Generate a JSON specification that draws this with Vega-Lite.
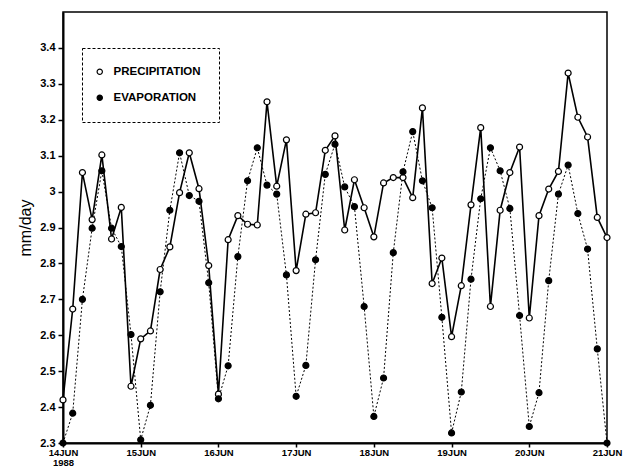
{
  "$schema": "https://vega.github.io/schema/vega-lite/v6.json",
  "width": 544,
  "height": 431,
  "autosize": {"type": "none"},
  "padding": {"left": 63, "top": 12, "right": 23, "bottom": 24},
  "background": "white",
  "config": {
    "font": "Liberation Sans",
    "view": {"stroke": "black", "strokeWidth": 1.5},
    "axis": {"domainColor": "black", "tickColor": "black", "labelColor": "black", "titleColor": "black", "grid": false, "domainWidth": 2, "tickWidth": 1.5},
    "legend": {"strokeColor": "black", "strokeDash": [3, 2], "strokeWidth": 1, "padding": 18, "symbolOffset": -6, "labelOffset": 8, "rowPadding": 13, "labelFontSize": 11.5, "labelFontWeight": "bold", "labelColor": "black", "symbolSize": 28, "symbolStrokeColor": "black", "symbolStrokeWidth": 1.2, "symbolType": "circle"}
  },
  "data": {"values": [
    {"t": "1988-06-14T00:00:00Z", "PRECIPITATION": 2.42, "EVAPORATION": 2.30},
    {"t": "1988-06-14T03:00:00Z", "PRECIPITATION": 2.673, "EVAPORATION": 2.383},
    {"t": "1988-06-14T06:00:00Z", "PRECIPITATION": 3.053, "EVAPORATION": 2.70},
    {"t": "1988-06-14T09:00:00Z", "PRECIPITATION": 2.922, "EVAPORATION": 2.898},
    {"t": "1988-06-14T12:00:00Z", "PRECIPITATION": 3.102, "EVAPORATION": 3.058},
    {"t": "1988-06-14T15:00:00Z", "PRECIPITATION": 2.868, "EVAPORATION": 2.898},
    {"t": "1988-06-14T18:00:00Z", "PRECIPITATION": 2.956, "EVAPORATION": 2.847},
    {"t": "1988-06-14T21:00:00Z", "PRECIPITATION": 2.458, "EVAPORATION": 2.602},
    {"t": "1988-06-15T00:00:00Z", "PRECIPITATION": 2.59, "EVAPORATION": 2.309},
    {"t": "1988-06-15T03:00:00Z", "PRECIPITATION": 2.612, "EVAPORATION": 2.405},
    {"t": "1988-06-15T06:00:00Z", "PRECIPITATION": 2.783, "EVAPORATION": 2.721},
    {"t": "1988-06-15T09:00:00Z", "PRECIPITATION": 2.846, "EVAPORATION": 2.948},
    {"t": "1988-06-15T12:00:00Z", "PRECIPITATION": 2.997, "EVAPORATION": 3.108},
    {"t": "1988-06-15T15:00:00Z", "PRECIPITATION": 3.108, "EVAPORATION": 2.989},
    {"t": "1988-06-15T18:00:00Z", "PRECIPITATION": 3.008, "EVAPORATION": 2.973},
    {"t": "1988-06-15T21:00:00Z", "PRECIPITATION": 2.794, "EVAPORATION": 2.746},
    {"t": "1988-06-16T00:00:00Z", "PRECIPITATION": 2.436, "EVAPORATION": 2.423},
    {"t": "1988-06-16T03:00:00Z", "PRECIPITATION": 2.866, "EVAPORATION": 2.515},
    {"t": "1988-06-16T06:00:00Z", "PRECIPITATION": 2.933, "EVAPORATION": 2.819},
    {"t": "1988-06-16T09:00:00Z", "PRECIPITATION": 2.909, "EVAPORATION": 3.030},
    {"t": "1988-06-16T12:00:00Z", "PRECIPITATION": 2.907, "EVAPORATION": 3.122},
    {"t": "1988-06-16T15:00:00Z", "PRECIPITATION": 3.25, "EVAPORATION": 3.018},
    {"t": "1988-06-16T18:00:00Z", "PRECIPITATION": 3.015, "EVAPORATION": 2.993},
    {"t": "1988-06-16T21:00:00Z", "PRECIPITATION": 3.144, "EVAPORATION": 2.768},
    {"t": "1988-06-17T00:00:00Z", "PRECIPITATION": 2.78, "EVAPORATION": 2.43},
    {"t": "1988-06-17T03:00:00Z", "PRECIPITATION": 2.937, "EVAPORATION": 2.516},
    {"t": "1988-06-17T06:00:00Z", "PRECIPITATION": 2.941, "EVAPORATION": 2.81},
    {"t": "1988-06-17T09:00:00Z", "PRECIPITATION": 3.115, "EVAPORATION": 3.048},
    {"t": "1988-06-17T12:00:00Z", "PRECIPITATION": 3.155, "EVAPORATION": 3.132},
    {"t": "1988-06-17T15:00:00Z", "PRECIPITATION": 2.893, "EVAPORATION": 3.013},
    {"t": "1988-06-17T18:00:00Z", "PRECIPITATION": 3.033, "EVAPORATION": 2.958},
    {"t": "1988-06-17T21:00:00Z", "PRECIPITATION": 2.955, "EVAPORATION": 2.68},
    {"t": "1988-06-18T00:00:00Z", "PRECIPITATION": 2.874, "EVAPORATION": 2.374},
    {"t": "1988-06-18T03:00:00Z", "PRECIPITATION": 3.024, "EVAPORATION": 2.481},
    {"t": "1988-06-18T06:00:00Z", "PRECIPITATION": 3.039, "EVAPORATION": 2.83},
    {"t": "1988-06-18T09:00:00Z", "PRECIPITATION": 3.039, "EVAPORATION": 3.055},
    {"t": "1988-06-18T12:00:00Z", "PRECIPITATION": 2.983, "EVAPORATION": 3.167},
    {"t": "1988-06-18T15:00:00Z", "PRECIPITATION": 3.233, "EVAPORATION": 3.03},
    {"t": "1988-06-18T18:00:00Z", "PRECIPITATION": 2.744, "EVAPORATION": 2.955},
    {"t": "1988-06-18T21:00:00Z", "PRECIPITATION": 2.815, "EVAPORATION": 2.65},
    {"t": "1988-06-19T00:00:00Z", "PRECIPITATION": 2.596, "EVAPORATION": 2.328},
    {"t": "1988-06-19T03:00:00Z", "PRECIPITATION": 2.738, "EVAPORATION": 2.442},
    {"t": "1988-06-19T06:00:00Z", "PRECIPITATION": 2.963, "EVAPORATION": 2.756},
    {"t": "1988-06-19T09:00:00Z", "PRECIPITATION": 3.178, "EVAPORATION": 2.98},
    {"t": "1988-06-19T12:00:00Z", "PRECIPITATION": 2.68, "EVAPORATION": 3.122},
    {"t": "1988-06-19T15:00:00Z", "PRECIPITATION": 2.948, "EVAPORATION": 3.058},
    {"t": "1988-06-19T18:00:00Z", "PRECIPITATION": 3.053, "EVAPORATION": 2.953},
    {"t": "1988-06-19T21:00:00Z", "PRECIPITATION": 3.124, "EVAPORATION": 2.655},
    {"t": "1988-06-20T00:00:00Z", "PRECIPITATION": 2.648, "EVAPORATION": 2.346},
    {"t": "1988-06-20T03:00:00Z", "PRECIPITATION": 2.933, "EVAPORATION": 2.44},
    {"t": "1988-06-20T06:00:00Z", "PRECIPITATION": 3.007, "EVAPORATION": 2.752},
    {"t": "1988-06-20T09:00:00Z", "PRECIPITATION": 3.056, "EVAPORATION": 2.993},
    {"t": "1988-06-20T12:00:00Z", "PRECIPITATION": 3.33, "EVAPORATION": 3.074},
    {"t": "1988-06-20T15:00:00Z", "PRECIPITATION": 3.207, "EVAPORATION": 2.939},
    {"t": "1988-06-20T18:00:00Z", "PRECIPITATION": 3.152, "EVAPORATION": 2.84},
    {"t": "1988-06-20T21:00:00Z", "PRECIPITATION": 2.928, "EVAPORATION": 2.562},
    {"t": "1988-06-21T00:00:00Z", "PRECIPITATION": 2.872, "EVAPORATION": 2.30}
  ]},
  "transform": [{"fold": ["PRECIPITATION", "EVAPORATION"], "as": ["series", "value"]}],
  "encoding": {
    "x": {
      "field": "t", "type": "temporal",
      "scale": {"type": "utc", "domain": [{"year": 1988, "month": 6, "date": 14, "utc": true}, {"year": 1988, "month": 6, "date": 21, "utc": true}], "nice": false},
      "axis": {
        "title": null,
        "tickCount": {"interval": "day", "step": 1},
        "labelExpr": "utcdate(datum.value) == 14 ? ['14JUN', '1988'] : upper(utcFormat(datum.value, '%d%b'))",
        "labelFontSize": 9.5, "labelFontWeight": "bold", "labelPadding": 0, "labelLineHeight": 10.5,
        "labelFlush": false, "labelOverlap": false, "tickSize": 4
      }
    },
    "y": {
      "field": "value", "type": "quantitative",
      "scale": {"domain": [2.3, 3.5], "nice": false, "zero": false},
      "axis": {
        "title": "mm/day", "titleFontSize": 16, "titleFontWeight": "normal", "titlePadding": 6,
        "values": [2.3, 2.4, 2.5, 2.6, 2.7, 2.8, 2.9, 3.0, 3.1, 3.2, 3.3, 3.4],
        "format": ".2~f", "labelFontSize": 11, "labelFontWeight": "bold", "labelPadding": 3, "tickSize": 5
      }
    }
  },
  "layer": [
    {
      "transform": [{"filter": "datum.series == 'EVAPORATION'"}],
      "mark": {"type": "line", "color": "black", "strokeWidth": 1, "strokeDash": [2, 2]},
      "encoding": {}
    },
    {
      "transform": [{"filter": "datum.series == 'PRECIPITATION'"}],
      "mark": {"type": "line", "color": "black", "strokeWidth": 1.6},
      "encoding": {}
    },
    {
      "mark": {"type": "point", "filled": true, "stroke": "black", "strokeWidth": 1.2, "opacity": 1, "size": 36},
      "encoding": {
        "fill": {
          "field": "series", "type": "nominal",
          "scale": {"domain": ["PRECIPITATION", "EVAPORATION"], "range": ["white", "black"]},
          "legend": {"orient": "none", "legendX": 19, "legendY": 36, "title": null}
        }
      }
    }
  ]
}
